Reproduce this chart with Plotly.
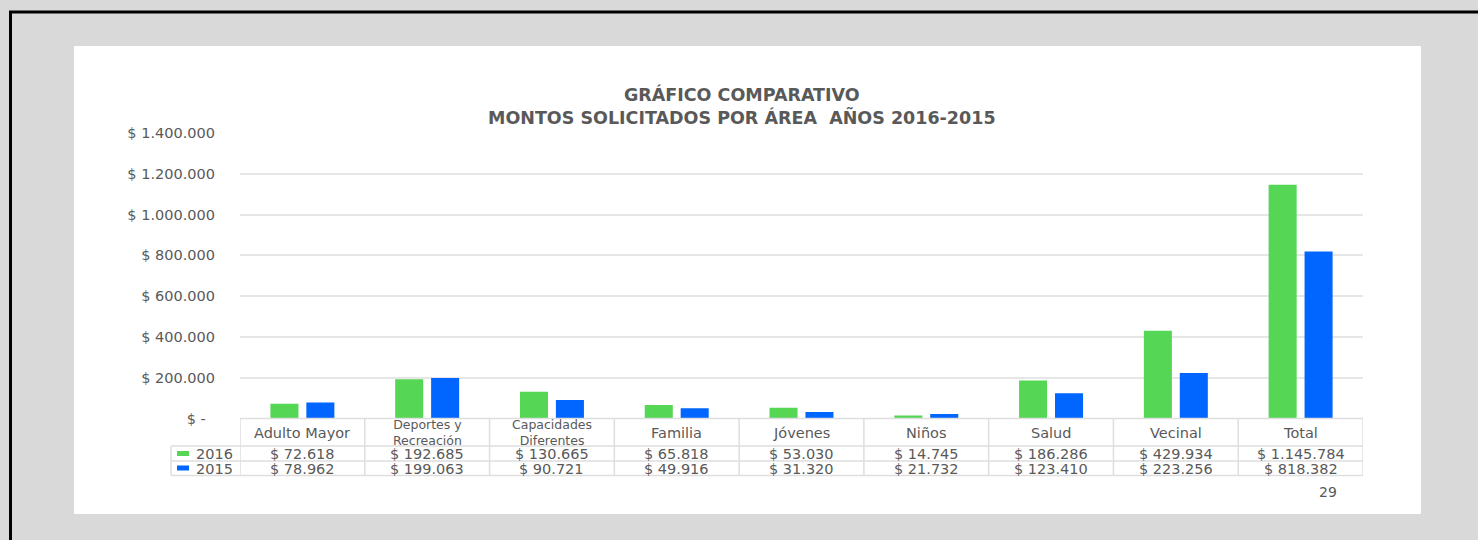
import plotly.graph_objects as go

W, H = 1478, 540

categories = ["Adulto Mayor", "Deportes y<br>Recreación", "Capacidades<br>Diferentes", "Familia",
              "Jóvenes", "Niños", "Salud", "Vecinal", "Total"]
series_names = ["2016", "2015"]
values_2016 = [72618, 192685, 130665, 65818, 53030, 14745, 186286, 429934, 1145784]
values_2015 = [78962, 199063, 90721, 49916, 31320, 21732, 123410, 223256, 818382]
tick_values = [0, 200000, 400000, 600000, 800000, 1000000, 1200000, 1400000]
title_text = "GRÁFICO COMPARATIVO<br>MONTOS SOLICITADOS POR ÁREA  AÑOS 2016-2015"
page_number = "29"

GREEN = "#55d655"
BLUE = "#0066ff"
TXT = "#595959"
LINE = "#dedede"
FONT = "DejaVu Sans"


def px(x):
    return x / W


def py(y):
    return 1 - y / H


def money(v):
    return "$ " + f"{v:,}".replace(",", ".")


def tick_label(v):
    return "$ -\u00a0\u00a0" if v == 0 else money(v)


xs = list(range(len(categories)))

fig = go.Figure()
fig.add_trace(go.Bar(x=xs, y=values_2016, name=series_names[0], marker=dict(color=GREEN, line=dict(width=0))))
fig.add_trace(go.Bar(x=xs, y=values_2015, name=series_names[1], marker=dict(color=BLUE, line=dict(width=0))))

plot_left, plot_right = 240, 1363
y_zero, y_top = 418.5, 133

shapes = []
# white panel
shapes.append(dict(type="rect", xref="paper", yref="paper", x0=px(74), x1=px(1421), y0=py(514), y1=py(46),
                   fillcolor="white", line=dict(width=0), layer="below"))
# black frame (top and left)
shapes.append(dict(type="line", xref="paper", yref="paper", x0=px(9), x1=1.0, y0=py(12), y1=py(12),
                   line=dict(color="black", width=3)))
shapes.append(dict(type="line", xref="paper", yref="paper", x0=px(10.5), x1=px(10.5), y0=py(12), y1=0,
                   line=dict(color="black", width=3)))

# table horizontal lines
for yy, x_start in [(446, 171), (461, 171), (475.5, 171)]:
    shapes.append(dict(type="line", xref="paper", yref="paper", x0=px(x_start), x1=px(plot_right),
                       y0=py(yy), y1=py(yy), line=dict(color=LINE, width=1.5)))
shapes.append(dict(type="line", xref="paper", yref="paper", x0=px(plot_left), x1=px(plot_right),
                   y0=py(y_zero), y1=py(y_zero), line=dict(color=LINE, width=1.5)))
# table vertical lines: category boundaries
for i in range(len(categories) + 1):
    shapes.append(dict(type="line", xref="x", yref="paper", x0=i - 0.5, x1=i - 0.5,
                       y0=py(475.5), y1=py(y_zero), line=dict(color=LINE, width=1.5)))
shapes.append(dict(type="line", xref="paper", yref="paper", x0=px(171), x1=px(171),
                   y0=py(475.5), y1=py(446), line=dict(color=LINE, width=1.5)))

# legend keys
for color, yc in [(GREEN, 453.5), (BLUE, 468)]:
    shapes.append(dict(type="rect", xref="paper", yref="paper", x0=px(177), x1=px(189),
                       y0=py(yc + 2.5), y1=py(yc - 2.5), fillcolor=color, line=dict(width=0)))

annotations = []
# title
annotations.append(dict(text="<b>" + title_text + "</b>", xref="paper", yref="paper", x=px(742), y=py(106.5),
                        xanchor="center", yanchor="middle", showarrow=False,
                        font=dict(family=FONT, size=17.5, color=TXT)))

# header row
for i, cat in enumerate(categories):
    two = "<br>" in cat
    annotations.append(dict(text=cat, xref="x", yref="paper", x=i, y=py(432.5), xanchor="center",
                            yanchor="middle", showarrow=False,
                            font=dict(family=FONT, size=12.5 if two else 14.5, color=TXT)))

# value rows
for vals, yc in [(values_2016, 454), (values_2015, 468.5)]:
    for i, v in enumerate(vals):
        annotations.append(dict(text=money(v), xref="x", yref="paper", x=i, y=py(yc), xanchor="center",
                                yanchor="middle", showarrow=False,
                                font=dict(family=FONT, size=14.5, color=TXT)))

# legend labels
for name, yc in zip(series_names, [454, 468.5]):
    annotations.append(dict(text=name, xref="paper", yref="paper", x=px(194), y=py(yc), xanchor="left",
                            yanchor="middle", showarrow=False,
                            font=dict(family=FONT, size=14.5, color=TXT)))

annotations.append(dict(text=page_number, xref="paper", yref="paper", x=px(1328), y=py(492),
                        xanchor="center", yanchor="middle", showarrow=False,
                        font=dict(family=FONT, size=14, color=TXT)))

fig.update_layout(
    width=W, height=H,
    autosize=False,
    margin=dict(l=0, r=0, t=0, b=0, pad=0, autoexpand=False),
    paper_bgcolor="#d9d9d9",
    plot_bgcolor="rgba(0,0,0,0)",
    barmode="group", bargap=0.424, bargroupgap=0.22,
    showlegend=False,
    shapes=shapes,
    annotations=annotations,
    xaxis=dict(domain=[px(plot_left), px(plot_right)], range=[-0.5, len(categories) - 0.5],
               showticklabels=False, showgrid=False, zeroline=False, showline=False, ticks="",
               automargin=False),
    yaxis=dict(domain=[py(y_zero), py(y_top)], range=[0, 1400000], tickvals=tick_values,
               ticktext=[tick_label(v) for v in tick_values], showgrid=True, gridcolor="#e6e6e6",
               gridwidth=1.5, zeroline=False, showline=False, ticks="", ticklabelstandoff=24,
               automargin=False, tickfont=dict(family=FONT, size=14.5, color=TXT)),
)

fig.write_html("out.html", config={"displayModeBar": False},
               post_script="document.body.style.margin='0';document.body.style.overflow='hidden';")
